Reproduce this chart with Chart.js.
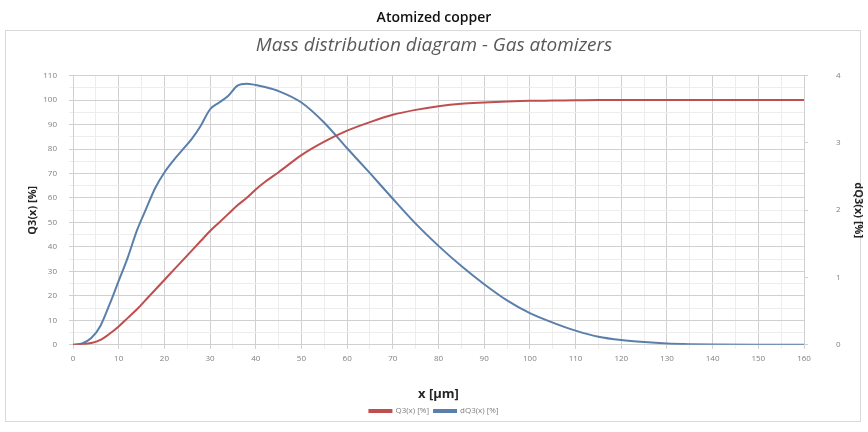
<!DOCTYPE html>
<html>
<head>
<meta charset="utf-8">
<script src="https://cdn.jsdelivr.net/npm/chart.js@4"></script>
<style>
  html, body { margin: 0; padding: 0; background: #fff; }
  #wrap { width: 868px; height: 432px; position: relative; }
</style>
</head>
<body>
<div id="wrap"><canvas id="chart" width="868" height="432"></canvas></div>
<script>
// particle size x [µm]
const sizes = [0, 2, 4, 6, 8, 10, 12, 14, 16, 18, 20, 22, 24, 26, 28, 30, 32, 34, 36, 38, 40, 42, 45,
  50, 55, 60, 65, 70, 75, 80, 85, 90, 95, 100, 105, 110, 115, 120, 125, 130, 135, 140, 150, 160];

// cumulative Q3(x) [%]  (left axis)
const q3 = [0, 0.2, 0.7, 2, 4.5, 7.5, 11, 14.5, 18.5, 22.5, 26.5, 30.5, 34.5, 38.5, 42.5, 46.5, 50, 53.5, 57, 60, 63.5, 66.5, 70.5,
  77.5, 83, 87.5, 91, 94, 96, 97.5, 98.5, 99, 99.4, 99.7, 99.8, 99.9, 100, 100, 100, 100, 100, 100, 100, 100];

// density dQ3(x) [%]  (right axis)
const dq3 = [0, 0.02, 0.1, 0.28, 0.6, 0.95, 1.3, 1.7, 2.02, 2.33, 2.56, 2.74, 2.9, 3.06, 3.26, 3.5, 3.6, 3.7, 3.85, 3.88, 3.86, 3.83, 3.77,
  3.6, 3.3, 2.92, 2.55, 2.17, 1.8, 1.47, 1.17, 0.9, 0.66, 0.47, 0.33, 0.21, 0.12, 0.07, 0.04, 0.02, 0.01, 0.005, 0, 0];

const xMax = 160;
const leftMax = 110;
const rightMax = 4;

const frame = {
  id: 'frame',
  beforeDraw(chart) {
    const ctx = chart.ctx;
    ctx.save();
    ctx.fillStyle = '#fff';
    ctx.fillRect(0, 0, chart.width, chart.height);
    ctx.strokeStyle = '#d9d9d9';
    ctx.lineWidth = 1;
    ctx.strokeRect(5.5, 30.5, 855, 391);
    ctx.restore();
  }
};

const gridColor = ctx => (ctx.tick && ctx.tick.value % 10 === 0) ? '#d0d0d0' : '#ededed';
const tickFont = { family: 'Open Sans', size: 8 };

new Chart(document.getElementById('chart'), {
  type: 'line',
  data: {
    datasets: [{
      label: 'Q3(x) [%]',
      data: sizes.map((x, i) => ({ x: x, y: q3[i] })),
      borderColor: '#bf4e4f',
      backgroundColor: '#bf4e4f',
      borderWidth: 2,
      pointRadius: 0,
      cubicInterpolationMode: 'monotone',
      yAxisID: 'y'
    }, {
      label: 'dQ3(x) [%]',
      data: sizes.map((x, i) => ({ x: x, y: dq3[i] })),
      borderColor: '#5a7fab',
      backgroundColor: '#5a7fab',
      borderWidth: 2,
      pointRadius: 0,
      cubicInterpolationMode: 'monotone',
      yAxisID: 'y1'
    }]
  },
  options: {
    responsive: false,
    animation: false,
    layout: { padding: { left: 2, right: 2, top: 0, bottom: 7 } },
    scales: {
      x: {
        type: 'linear',
        min: 0,
        max: xMax,
        ticks: {
          stepSize: 5,
          autoSkip: false,
          maxRotation: 0,
          color: '#7f7f7f',
          font: tickFont,
          padding: 5,
          callback: v => v % 10 === 0 ? v : ''
        },
        grid: { color: gridColor, tickLength: 4 },
        border: { color: '#d0d0d0' },
        title: {
          display: true,
          text: 'x [µm]',
          color: '#262626',
          font: { family: 'Open Sans', size: 13, weight: 'bold' },
          padding: { top: 18, bottom: 0 }
        }
      },
      y: {
        position: 'left',
        min: 0,
        max: leftMax,
        afterFit: s => { s.width = 71; },
        ticks: {
          stepSize: 5,
          autoSkip: false,
          color: '#7f7f7f',
          font: tickFont,
          padding: 12,
          callback: v => v % 10 === 0 ? v : ''
        },
        grid: { color: gridColor, tickLength: 4 },
        border: { color: '#d0d0d0' },
        title: {
          display: true,
          text: 'Q3(x) [%]',
          color: '#262626',
          font: { family: 'Open Sans', size: 11, weight: 'bold' },
          padding: { top: 24, bottom: 0 }
        }
      },
      y1: {
        position: 'right',
        min: 0,
        max: rightMax,
        afterFit: s => { s.width = 62; },
        ticks: {
          stepSize: 1,
          color: '#7f7f7f',
          font: tickFont,
          padding: 28
        },
        grid: { drawOnChartArea: false, color: '#d0d0d0', tickLength: 4 },
        border: { color: '#d0d0d0' },
        title: {
          display: true,
          text: 'dQ3(x) [%]',
          color: '#262626',
          font: { family: 'Open Sans', size: 11, weight: 'bold' },
          padding: { top: 1, bottom: 0 }
        }
      }
    },
    plugins: {
      title: {
        display: true,
        text: 'Atomized copper',
        color: '#111',
        font: { family: 'Open Sans', size: 14, weight: '600' },
        padding: { top: 10, bottom: 7 }
      },
      subtitle: {
        display: true,
        text: 'Mass distribution diagram - Gas atomizers',
        color: '#595959',
        font: { family: 'Open Sans', size: 19, style: 'italic' },
        padding: { top: 0, bottom: 19 }
      },
      legend: {
        position: 'bottom',
        labels: {
          boxWidth: 22,
          boxHeight: 2,
          color: '#7f7f7f',
          font: tickFont,
          padding: 5
        }
      },
      tooltip: { enabled: false }
    }
  },
  plugins: [frame]
});
</script>
</body>
</html>
